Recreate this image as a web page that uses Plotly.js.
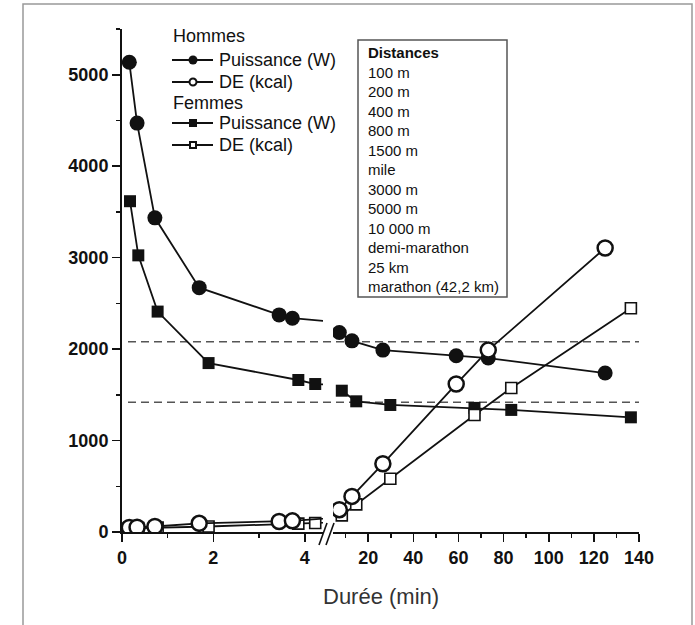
<!DOCTYPE html>
<html><head><meta charset="utf-8">
<script src="https://cdn.plot.ly/plotly-3.0.1.min.js"></script>
<style>html,body{margin:0;padding:0;background:#fff;} #chart{width:695px;height:625px;}</style>
</head><body><div id="chart"></div>
<script>
// ---- data ----
const distances = ['100 m','200 m','400 m','800 m','1500 m','mile','3000 m','5000 m','10 000 m','demi-marathon','25 km','marathon (42,2 km)'];
const menTime    = [0.16, 0.33, 0.72, 1.69, 3.44, 3.73, 7.2, 12.8, 26.5, 59, 73.2, 125];
const menPower   = [5136, 4471, 3435, 2672, 2374, 2338, 2181, 2090, 1989, 1927, 1902, 1738];
const menDE      = [50, 52, 60, 95, 115, 122, 244, 389, 746, 1618, 1989, 3105];
const womenTime  = [0.175, 0.357, 0.78, 1.895, 3.86, 4.23, 8.3, 14.7, 29.8, 67.1, 83.4, 136.4];
const womenPower = [3617, 3025, 2410, 1847, 1662, 1618, 1545, 1429, 1389, 1357, 1335, 1254];
const womenDE    = [40, 42, 48, 60, 92, 98, 182, 302, 582, 1280, 1575, 2447];
const refLevels  = [2080, 1420];
const groupTitles = ['Hommes', 'Femmes'];
const seriesNames = ['Puissance (W)', 'DE (kcal)'];
const boxTitle = 'Distances';
const xTitle = 'Durée (min)';

// ---- layout constants ----
const W = 695, H = 625;
const M = {l: 122, r: 56, t: 29, b: 93};
const PW = W - M.l - M.r, PH = H - M.t - M.b;
const px = v => (v - M.l) / PW;          // pixel -> paper x
const py = v => (H - M.b - v) / PH;      // pixel -> paper y
const FONT = 'Liberation Sans, Arial, Helvetica, sans-serif';
const INK = '#111';
const BREAK = 4.4;
const nLeft = menTime.filter(t => t < BREAK).length;

const lineStyle = {color: INK, width: 1.8};
const mk = {
  menP:   {symbol: 'circle', size: 15, color: INK},
  menDE:  {symbol: 'circle', size: 15, color: '#fff', line: {color: INK, width: 2.5}},
  womP:   {symbol: 'square', size: 12, color: INK},
  womDE:  {symbol: 'square', size: 11, color: '#fff', line: {color: INK, width: 1.6}}
};

function split(time, vals, marker, name) {
  // left part (plus the first point of the right part so the link reaches the break)
  const left = {x: time.slice(0, nLeft + 1), y: vals.slice(0, nLeft + 1), xaxis: 'x', yaxis: 'y', name: name,
    mode: 'lines+markers', line: lineStyle, marker: marker, showlegend: false, cliponaxis: true};
  const right = {x: time.slice(nLeft), y: vals.slice(nLeft), xaxis: 'x2', yaxis: 'y', name: name,
    mode: 'lines+markers', line: lineStyle, marker: marker, showlegend: false, cliponaxis: true};
  return [left, right];
}

const traces = [
  ...split(womenTime, womenPower, mk.womP, groupTitles[1] + ' ' + seriesNames[0]),
  ...split(menTime, menPower, mk.menP, groupTitles[0] + ' ' + seriesNames[0]),
  ...split(womenTime, womenDE, mk.womDE, groupTitles[1] + ' ' + seriesNames[1]),
  ...split(menTime, menDE, mk.menDE, groupTitles[0] + ' ' + seriesNames[1])
];

const axisCommon = {
  showline: true, linecolor: INK, linewidth: 2, showgrid: false, zeroline: false,
  ticks: 'outside', ticklen: 8, tickwidth: 1.6, tickcolor: INK,
  tickfont: {family: FONT, size: 18, color: INK, weight: 'bold'}, anchor: 'y', fixedrange: true
};

const shapes = [];
const annotations = [];
// reference dashed levels
refLevels.forEach(v => shapes.push({type: 'line', xref: 'paper', yref: 'y', x0: px(128), x1: 1, y0: v, y1: v,
  line: {color: '#555', width: 1.5, dash: '8px,5px'}, layer: 'below'}));
// axis break marks
[0, 7].forEach(d => shapes.push({type: 'line', xref: 'paper', yref: 'paper',
  x0: px(319 + d), y0: py(545), x1: px(327 + d), y1: py(523), line: {color: INK, width: 1.6}}));
// distances box
shapes.push({type: 'rect', xref: 'paper', yref: 'paper', x0: px(358), x1: px(507), y0: py(297), y1: py(40),
  line: {color: '#555', width: 1.5}, fillcolor: 'rgba(0,0,0,0)'});
// outer frame
shapes.push({type: 'rect', xref: 'paper', yref: 'paper', x0: px(23), x1: px(692), y0: py(660), y1: py(4),
  line: {color: '#999', width: 1.5}, fillcolor: 'rgba(0,0,0,0)'});

// ---- hand-built legend (group headings + entries) ----
const LEG = {x0: 172, x1: 213, xm: 193, xt: 217, rows: [36, 60, 82, 103, 123, 145]};
const legSymbols = [
  {type: 'circle', r: 4.5, fill: INK, lw: 0},
  {type: 'circle', r: 3.5, fill: '#fff', lw: 2},
  {type: 'rect', r: 4, fill: INK, lw: 0},
  {type: 'rect', r: 3, fill: '#fff', lw: 2}
];
const FS = 18;
let row = 0;
groupTitles.forEach((g, gi) => {
  annotations.push({xref: 'paper', yref: 'paper', x: px(LEG.x0 - 1), y: py(LEG.rows[row]), xanchor: 'left', yanchor: 'middle',
    showarrow: false, text: g, font: {family: FONT, size: FS, color: INK}, xshift: 0});
  row++;
  seriesNames.forEach((s, si) => {
    const yy = LEG.rows[row];
    const sym = legSymbols[gi * 2 + si];
    shapes.push({type: 'line', xref: 'paper', yref: 'paper', x0: px(LEG.x0), x1: px(LEG.x1), y0: py(yy), y1: py(yy),
      line: {color: INK, width: 1.8}});
    shapes.push({type: sym.type, xref: 'paper', yref: 'paper',
      x0: px(LEG.xm - sym.r), x1: px(LEG.xm + sym.r), y0: py(yy + sym.r), y1: py(yy - sym.r),
      fillcolor: sym.fill, line: {color: INK, width: sym.lw}});
    annotations.push({xref: 'paper', yref: 'paper', x: px(LEG.xt), y: py(yy), xanchor: 'left', yanchor: 'middle',
      showarrow: false, text: s, font: {family: FONT, size: FS, color: INK}});
    row++;
  });
});

annotations.push(
  {xref: 'paper', yref: 'paper', x: px(366), y: py(42), xanchor: 'left', yanchor: 'top', align: 'left',
   showarrow: false, text: ['<b>' + boxTitle + '</b>', ...distances].join('<br>'),
   font: {family: FONT, size: 15, color: INK}},
  {xref: 'paper', yref: 'paper', x: px(381), y: py(596), xanchor: 'center', yanchor: 'middle',
   showarrow: false, text: xTitle, font: {family: FONT, size: 22, color: '#333'}}
);

const layout = {
  width: W, height: H, margin: M, paper_bgcolor: '#fff', plot_bgcolor: 'rgba(0,0,0,0)',
  font: {family: FONT, color: INK}, showlegend: false,
  xaxis: Object.assign({}, axisCommon, {domain: [0, px(323)], range: [0, BREAK], tick0: 0, dtick: 2,
    minor: {dtick: 1, ticks: 'outside', ticklen: 4, tickwidth: 1.5, tickcolor: INK, showgrid: false}}),
  xaxis2: Object.assign({}, axisCommon, {domain: [px(333), 1], range: [BREAK, 140], tick0: 0, dtick: 20,
    minor: {dtick: 10, ticks: 'outside', ticklen: 4, tickwidth: 1.5, tickcolor: INK, showgrid: false}}),
  yaxis: Object.assign({}, axisCommon, {anchor: 'x', domain: [0, 1], range: [0, 5500], tick0: 0, dtick: 1000,
    minor: {dtick: 500, ticks: 'outside', ticklen: 4, tickwidth: 1.5, tickcolor: INK, showgrid: false}}),
  shapes: shapes, annotations: annotations
};

Plotly.newPlot('chart', traces, layout, {displayModeBar: false, staticPlot: true});
</script></body></html>
